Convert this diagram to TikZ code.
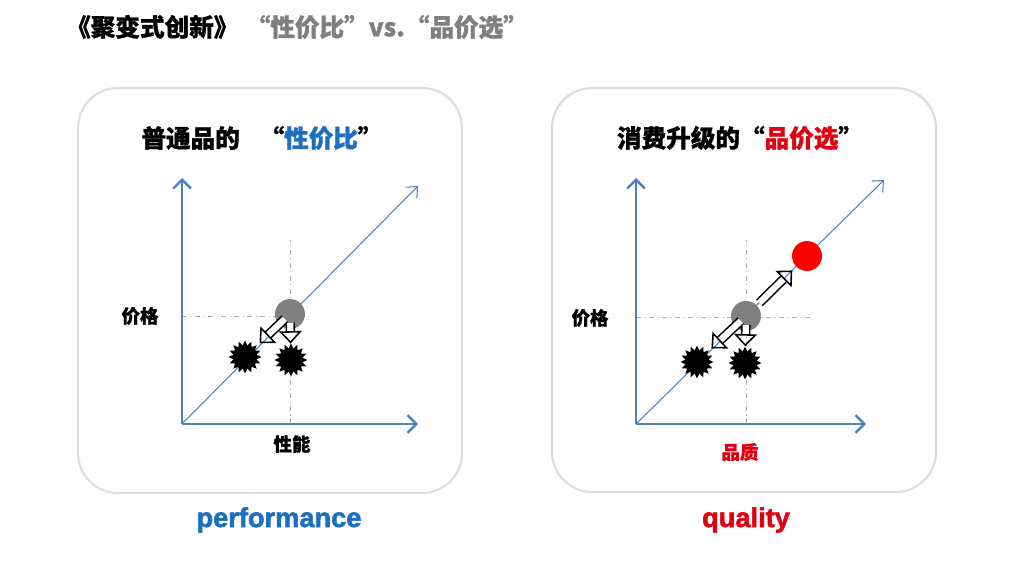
\documentclass[tikz,border=0pt]{standalone}
\usepackage{fontspec}
\newfontfamily\cjk{Noto Sans CJK SC}[BoldFeatures={FakeBold=1.2}]
\newfontfamily\latinb{Liberation Sans}[BoldFeatures={FakeBold=2}]
\usetikzlibrary{arrows.meta,shapes.geometric}
\definecolor{axisblue}{HTML}{4F81BD}
\definecolor{textblue}{HTML}{1F6FBF}
\definecolor{textred}{HTML}{E00010}
\definecolor{panelgray}{HTML}{DDDDDD}
\definecolor{guidegray}{HTML}{B0B0B0}
\definecolor{titlegray}{HTML}{7F7F7F}
\begin{document}
\begin{tikzpicture}[x=0.02cm, y=-0.02cm,
  panel/.style={draw=panelgray, line width=1.2pt, rounded corners=0.8cm},
  axis/.style={draw=axisblue, line width=1.4pt, -{Straight Barb[length=5pt,width=10pt]}},
  diag/.style={draw=axisblue, line width=0.6pt, -{Straight Barb[length=5pt,width=9pt]}},
  guide/.style={draw=guidegray, line width=0.4pt, dash dot},
  dot/.style={circle, minimum size=0.6cm, inner sep=0pt},
  burst/.style={star, star points=16, star point ratio=1.4, fill=black, minimum size=0.66cm, inner sep=0pt},
  hollow/.style={draw=black, double=white, double distance=3.6pt, line width=0.9pt, -{Triangle[open,length=7pt,width=13pt]}},
  lbl/.style={font=\cjk\bfseries\fontsize{10.5}{12}\selectfont},
  head/.style={font=\cjk\bfseries\fontsize{14}{16}\selectfont},
  word/.style={font=\latinb\bfseries\fontsize{15.5}{18}\selectfont}
]
  \useasboundingbox (0,0) rectangle (1018,564);

  % title
  \node[anchor=west, font=\cjk\bfseries\fontsize{14}{16}\selectfont] (title) at (60,27)
    {《聚变式创新》\hspace{0.3em}{\color{titlegray}“性价比”vs.“品价选”}};

  % left panel
  \draw[panel] (78,88) rectangle (462,493);
  \node[head] (head1) at (262,138) {普通品的\hspace{0.8em}“{\color{textblue}性价比}”};
  \coordinate (o1) at (182,424);
  \coordinate (y1) at (182,178);
  \coordinate (x1) at (418,424);
  \coordinate (d1) at (418,186);
  \coordinate (h1) at (312,316);
  \coordinate (v1) at (290,240);
  \draw[guide] (182,316) -- (h1);
  \draw[guide] (290,424) -- (v1);
  \draw[diag] (o1) -- (d1);
  \draw[axis] (o1) -- (y1);
  \draw[axis] (o1) -- (x1);
  \node[dot, fill=gray] (g1) at (290,314) {};
  \node[burst] (s1a) at (245,357) {};
  \node[burst] (s1b) at (291,360) {};
  \draw[hollow, shorten <=4pt, shorten >=2pt] (g1.center) -- (s1a);
  \draw[hollow, shorten <=5pt, shorten >=0pt] (g1.center) -- (s1b);
  \node[lbl] (p1) at (140,316) {价格};
  \node[lbl] (q1) at (292,444) {性能};
  \node[word, text=textblue] (w1) at (279,520) {performance};

  % right panel
  \draw[panel] (552,88) rectangle (936,492);
  \node[head] (head2) at (740,138) {消费升级的“{\color{textred}品价选}”};
  \coordinate (o2) at (636,424);
  \coordinate (y2) at (636,178);
  \coordinate (x2) at (866,424);
  \coordinate (d2) at (884,180);
  \coordinate (h2) at (812,317);
  \coordinate (v2) at (746,240);
  \draw[guide] (636,317) -- (h2);
  \draw[guide] (746,424) -- (v2);
  \draw[diag] (o2) -- (d2);
  \draw[axis] (o2) -- (y2);
  \draw[axis] (o2) -- (x2);
  \node[dot, fill=gray] (g2) at (746,316) {};
  \node[dot, fill=red] (r2) at (807,256) {};
  \node[burst] (s2a) at (697,362) {};
  \node[burst] (s2b) at (745,363) {};
  \draw[hollow, shorten <=2pt, shorten >=3pt] (g2) -- (r2);
  \draw[hollow, shorten <=4pt, shorten >=2pt] (g2.center) -- (s2a);
  \draw[hollow, shorten <=5pt, shorten >=0pt] (g2.center) -- (s2b);
  \node[lbl] (p2) at (590,318) {价格};
  \node[lbl, text=textred] (q2) at (740,452) {品质};
  \node[word, text=textred] (w2) at (746,520) {quality};
\end{tikzpicture}
\end{document}
